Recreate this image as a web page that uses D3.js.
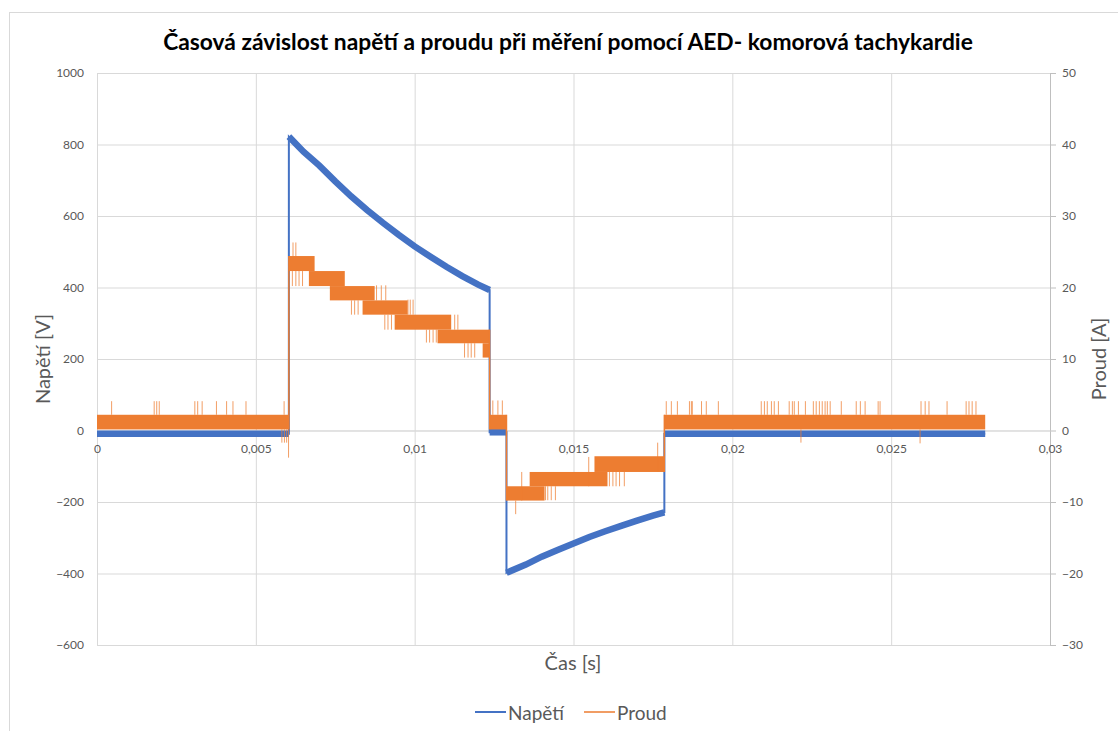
<!DOCTYPE html>
<html>
<head>
<meta charset="utf-8">
<script src="https://cdn.jsdelivr.net/npm/d3@7"></script>
<style>
body { margin: 0; background: #fff; }
svg text { font-family: Lato, "Open Sans", sans-serif; }
</style>
</head>
<body>
<div id="chart"></div>
<script>
const width = 1118
const height = 731

// axis ticks
const xTicks = [0, 0.005, 0.01, 0.015, 0.02, 0.025, 0.03]
const xTickLabels = ["0", "0,005", "0,01", "0,015", "0,02", "0,025", "0,03"]
const voltTicks = [-600, -400, -200, 0, 200, 400, 600, 800, 1000]
const currentTicks = [-30, -20, -10, 0, 10, 20, 30, 40, 50]

// Napětí [V] (repeated time = vertical jump)
const voltTime = [0, 0.00604, 0.00604, 0.0065, 0.0070, 0.0075, 0.0080, 0.0085, 0.0090, 0.0095, 0.0100, 0.0105, 0.0110, 0.0115, 0.0120, 0.01236,
    0.01236, 0.01289, 0.01289, 0.0135, 0.0140, 0.0145, 0.0150, 0.0155, 0.0160, 0.0165, 0.0170, 0.0175, 0.01786, 0.01786, 0.02796]
const voltValue = [-9, -9, 822, 780, 741, 697, 655, 617, 581, 547, 515, 486, 458, 432, 408, 393,
    -5, -5, -398, -375, -353, -334, -316, -298, -282, -267, -252, -238, -229, -9, -9]

// Proud [A] - quantised signal toggles inside these bands
const bandStart = [0, 0.00604, 0.00667, 0.00733, 0.00836, 0.00937, 0.01072, 0.01214, 0.01236, 0.01289, 0.01362, 0.01566, 0.01786]
const bandEnd = [0.00604, 0.00685, 0.00780, 0.00874, 0.00978, 0.01115, 0.01236, 0.01236, 0.01289, 0.01409, 0.01607, 0.01786, 0.02796]
const bandLow = [0.15, 22.3, 20.2, 18.2, 16.2, 14.1, 12.2, 10.2, 0.15, -9.8, -7.8, -5.8, 0.15]
const bandHigh = [2.2, 24.4, 22.3, 20.2, 18.2, 16.2, 14.1, 12.2, 2.2, -7.8, -5.8, -3.6, 2.2]

// single sample spikes of the current
const spikeTime = [0.00046, 0.00180, 0.00188, 0.00196, 0.00308, 0.00317, 0.00331, 0.00376, 0.00408, 0.00428, 0.00469, 0.00589,
    0.00582, 0.00590, 0.00597, 0.00603,
    0.00617, 0.00626, 0.00615, 0.00626, 0.00636, 0.00647, 0.00801, 0.00811, 0.00822, 0.00880, 0.00895, 0.00909,
    0.00906, 0.00916, 0.00927, 0.00979, 0.00986, 0.00995, 0.01037, 0.01047, 0.01058, 0.01068, 0.01126, 0.01136,
    0.01157, 0.01168, 0.01178, 0.01189, 0.01246, 0.01262, 0.01276,
    0.01318, 0.01337, 0.01412, 0.01419, 0.01430, 0.01443, 0.01548, 0.01613, 0.01624, 0.01634, 0.01645, 0.01660, 0.01765,
    0.01792, 0.01808, 0.01827, 0.01865, 0.01871, 0.01874, 0.01903, 0.01918, 0.01956, 0.02091, 0.02101, 0.02110, 0.02123,
    0.02132, 0.02145, 0.02179, 0.02189, 0.02195, 0.02208, 0.02230, 0.02255, 0.02264, 0.02274, 0.02283, 0.02292, 0.02299,
    0.02308, 0.02343, 0.02390, 0.02403, 0.02418, 0.02459, 0.02465, 0.02594, 0.02607, 0.02619, 0.02676, 0.02736, 0.02745,
    0.02755, 0.02767, 0.02216, 0.02591]
const spikeValue = [4.1, 4.1, 4.1, 4.1, 4.1, 4.1, 4.1, 4.1, 4.1, 4.1, 4.1, 4.1,
    -1.7, -1.7, -1.7, -3.8,
    26.3, 26.3, 20.2, 20.2, 20.2, 20.2, 16.2, 16.2, 16.2, 20.3, 20.3, 20.3,
    14.1, 14.1, 14.1, 18.3, 18.3, 18.3, 12.3, 12.3, 12.3, 12.3, 16.2, 16.2,
    10.2, 10.2, 10.2, 10.2, 4.2, 4.2, 4.2,
    -11.7, -5.8, -9.75, -9.75, -9.75, -9.75, -3.7, -7.8, -7.8, -7.8, -7.8, -7.8, -1.7,
    4.1, 4.1, 4.1, 4.1, 4.1, 4.1, 4.1, 4.1, 4.1, 4.1, 4.1, 4.1, 4.1,
    4.1, 4.1, 4.1, 4.1, 4.1, 4.1, 4.1, 4.1, 4.1, 4.1, 4.1, 4.1, 4.1,
    4.1, 4.1, 4.1, 4.1, 4.1, 4.1, 4.1, 4.1, 4.1, 4.1, 4.1, 4.1, 4.1,
    4.1, 4.1, -1.7, -1.8]

const blue = "#4472C4"
const orange = "#ED7D31"
const plot = { left: 97, right: 1050, top: 73, bottom: 645 }

const svg = d3.select("#chart")
    .append("svg")
    .attr("width", width)
    .attr("height", height)

svg.append("rect")
    .attr("x", 9.5).attr("y", 12.5)
    .attr("width", width + 20).attr("height", height + 20)
    .attr("fill", "#fff")
    .attr("stroke", "#D9D9D9")

const x = d3.scaleLinear().domain([0, 0.03]).range([plot.left, plot.right])
const yV = d3.scaleLinear().domain([-600, 1000]).range([plot.bottom, plot.top])
const yI = d3.scaleLinear().domain([-30, 50]).range([plot.bottom, plot.top])

function styleAxis(g, lineColor) {
    g.selectAll(".tick line").attr("stroke", lineColor)
    g.selectAll(".tick text")
        .attr("fill", "#595959")
        .style("font-size", "12px")
    g.select(".domain").attr("stroke", lineColor)
}

// vertical grid
const xGrid = svg.append("g")
    .attr("transform", `translate(0,${plot.top})`)
    .call(d3.axisBottom(x).tickValues(xTicks).tickSize(plot.bottom - plot.top).tickFormat(""))
xGrid.select(".domain").remove()
xGrid.selectAll(".tick line").attr("stroke", "#D9D9D9")

// left axis + horizontal grid
const leftAxis = svg.append("g")
    .attr("transform", `translate(${plot.left},0)`)
    .call(d3.axisLeft(yV).tickValues(voltTicks).tickSize(-(plot.right - plot.left)).tickPadding(13)
        .tickFormat(d3.format("d")))
styleAxis(leftAxis, "#D9D9D9")
leftAxis.select(".domain").remove()

// right axis
const rightAxis = svg.append("g")
    .attr("transform", `translate(${plot.right},0)`)
    .call(d3.axisRight(yI).tickValues(currentTicks).tickSize(6).tickSizeOuter(0).tickPadding(6))
styleAxis(rightAxis, "#BFBFBF")

// horizontal axis crossing at 0
const bottomAxis = svg.append("g")
    .attr("transform", `translate(0,${yV(0)})`)
    .call(d3.axisBottom(x).tickValues(xTicks).tickSize(0).tickSizeOuter(0).tickPadding(14)
        .tickFormat((d, i) => xTickLabels[i]))
styleAxis(bottomAxis, "#D9D9D9")

// voltage: thin verticals, thick noisy runs
const voltData = voltTime.map((t, i) => ({ t, v: voltValue[i] }))
const voltLine = d3.line().x(d => x(d.t)).y(d => yV(d.v))

svg.append("path")
    .datum(voltData)
    .attr("d", voltLine)
    .attr("fill", "none")
    .attr("stroke", blue)
    .attr("stroke-width", 2)

const runs = []
let run = [voltData[0]]
for (let i = 1; i < voltData.length; i++) {
    if (voltData[i].t === voltData[i - 1].t) {
        runs.push(run)
        run = []
    }
    run.push(voltData[i])
}
runs.push(run)

svg.append("g")
    .selectAll("path")
    .data(runs)
    .enter()
    .append("path")
    .attr("d", voltLine)
    .attr("fill", "none")
    .attr("stroke", blue)
    .attr("stroke-width", 6.5)

// current bands
const bands = bandStart.map((s, i) => ({ s, e: bandEnd[i], lo: bandLow[i], hi: bandHigh[i] }))
const gI = svg.append("g")

gI.selectAll("rect")
    .data(bands)
    .enter()
    .append("rect")
    .attr("x", d => x(d.s))
    .attr("width", d => x(d.e) - x(d.s))
    .attr("y", d => yI(d.hi))
    .attr("height", d => yI(d.lo) - yI(d.hi))
    .attr("fill", orange)

// jumps between non overlapping bands
const jumps = []
for (let i = 1; i < bands.length; i++) {
    if (bands[i].s >= bands[i - 1].e) {
        const t = bands[i].s
        const touching = bands.filter(b => b.s === t || b.e === t)
        jumps.push({ t, lo: d3.min(touching, b => b.lo), hi: d3.max(touching, b => b.hi) })
    }
}
gI.selectAll("line.jump")
    .data(jumps)
    .enter()
    .append("line")
    .attr("class", "jump")
    .attr("x1", d => x(d.t)).attr("x2", d => x(d.t))
    .attr("y1", d => yI(d.lo)).attr("y2", d => yI(d.hi))
    .attr("stroke", orange)
    .attr("stroke-width", 1.5)

// spikes start from the nearest band edge
const spikes = spikeTime.map((t, i) => {
    const v = spikeValue[i]
    const inside = bands.filter(b => b.s <= t && t <= b.e)
    const base = v > 0 && v > d3.max(inside, b => b.hi) ? d3.max(inside, b => b.hi) : d3.min(inside, b => b.lo)
    return { t, v, base }
})
gI.selectAll("line.spike")
    .data(spikes)
    .enter()
    .append("line")
    .attr("class", "spike")
    .attr("x1", d => x(d.t)).attr("x2", d => x(d.t))
    .attr("y1", d => yI(d.base)).attr("y2", d => yI(d.v))
    .attr("stroke", orange)
    .attr("stroke-opacity", 0.75)
    .attr("stroke-width", 1)

// titles
const title = svg.append("text")
    .attr("x", 568)
    .attr("y", 50)
    .attr("text-anchor", "middle")
    .style("font-size", "20px")
    .style("font-weight", "bold")
    .attr("fill", "#000")
    .text("Časová závislost napětí a proudu při měření pomocí AED- komorová tachykardie")
const titleLen = title.node().getComputedTextLength()
title.style("font-size", (20 * 810 / titleLen) + "px")

function axisTitle(txt, cx, cy, rotate) {
    svg.append("text")
        .attr("transform", `translate(${cx},${cy})` + (rotate ? " rotate(-90)" : ""))
        .attr("text-anchor", "middle")
        .attr("dominant-baseline", "central")
        .attr("fill", "#595959")
        .style("font-size", "20px")
        .text(txt)
}
axisTitle("Napětí [V]", 42, 359, true)
axisTitle("Proud [A]", 1098, 359, true)
axisTitle("Čas [s]", 573, 662, false)

// legend
const legend = [{ name: "Napětí", color: blue, w: 2, x0: 475 }, { name: "Proud", color: orange, w: 1.5, x0: 584 }]
const lg = svg.append("g").selectAll("g").data(legend).enter().append("g")
lg.append("line")
    .attr("x1", d => d.x0).attr("x2", d => d.x0 + 31)
    .attr("y1", 712).attr("y2", 712)
    .attr("stroke", d => d.color)
    .attr("stroke-width", d => d.w)
lg.append("text")
    .attr("x", d => d.x0 + 33)
    .attr("y", 712)
    .attr("dominant-baseline", "central")
    .attr("fill", "#595959")
    .style("font-size", "19px")
    .text(d => d.name)
</script>
</body>
</html>
